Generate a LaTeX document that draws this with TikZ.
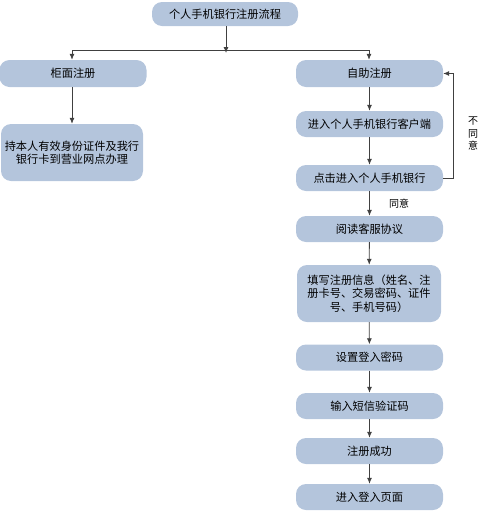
\documentclass[tikz,border=0pt]{standalone}
\usepackage{fontspec}
\setmainfont{Noto Sans CJK SC}
\usetikzlibrary{arrows.meta}

\begin{document}
\begin{tikzpicture}[x=1pt, y=-1pt,
        stepbox/.style={fill=boxblue, rounded corners=10pt, minimum width=147pt, minimum height=26pt, inner sep=0pt, align=center, font=\fontsize{11.2}{13.5}\selectfont},
        flow/.style={line width=0.8pt, draw=black!75, -{Latex[length=6pt,width=5pt]}}]
        \definecolor{boxblue}{HTML}{B4C5DC}
        \useasboundingbox (0,0) rectangle (480,512);

        \node[stepbox, minimum width=146pt, minimum height=24pt](title) at (225, 14){个人手机银行注册流程};
        \node[stepbox, minimum height=27pt](counter) at (73, 73.5){柜面注册};
        \node[stepbox, minimum height=27pt](self) at (369.5, 73.5){自助注册};
        \node[stepbox, minimum width=142pt, minimum height=57pt](counterinfo) at (72, 152.5){持本人有效身份证件及我行\\银行卡到营业网点办理};

        \node[stepbox](client) at (369.5, 124){进入个人手机银行客户端};
        \node[stepbox](enter) at (369.5, 178){点击进入个人手机银行};
        \node[stepbox](read) at (369.5, 229){阅读客服协议};
        \node[stepbox, minimum width=144pt, minimum height=57pt](fill) at (369, 293.5){填写注册信息（姓名、注\\册卡号、交易密码、证件\\号、手机号码）};
        \node[stepbox](pwd) at (369.5, 357.5){设置登入密码};
        \node[stepbox](sms) at (369.5, 406){输入短信验证码};
        \node[stepbox](done) at (369.5, 451){注册成功};
        \node[stepbox](login) at (369.5, 497){进入登入页面};

        \coordinate (split) at (226, 50);
        \coordinate (splitl) at (72, 50);
        \coordinate (splitr) at (369, 50);

        \draw[flow] (title.south -| split) -- ([yshift=-3pt]split);
        \draw[line width=0.8pt, draw=black!75] (splitl) -- (splitr);
        \draw[flow] (splitl) -- (splitl |- counter.north);
        \draw[flow] (splitr) -- (splitr |- self.north);
        \draw[flow] (counter.south -| splitl) -- (splitl |- counterinfo.north);

        \draw[flow] (self) -- (client);
        \draw[flow] (client) -- (enter);
        \draw[flow] (enter) -- (read) node[pos=.5, right=16pt, font=\fontsize{10}{12}\selectfont](agree){同意};
        \draw[flow] (read) -- (fill);
        \draw[flow] (fill) -- (pwd);
        \draw[flow] (pwd) -- (sms);
        \draw[flow] (sms) -- (done);
        \draw[flow] (done) -- (login);

        \draw[flow] (enter.east) -- ++(10,0) |- (self.east);
        \node[align=center, font=\fontsize{10}{12.5}\selectfont](disagree) at (473, 134){不\\同\\意};
    \end{tikzpicture}
\end{document}
